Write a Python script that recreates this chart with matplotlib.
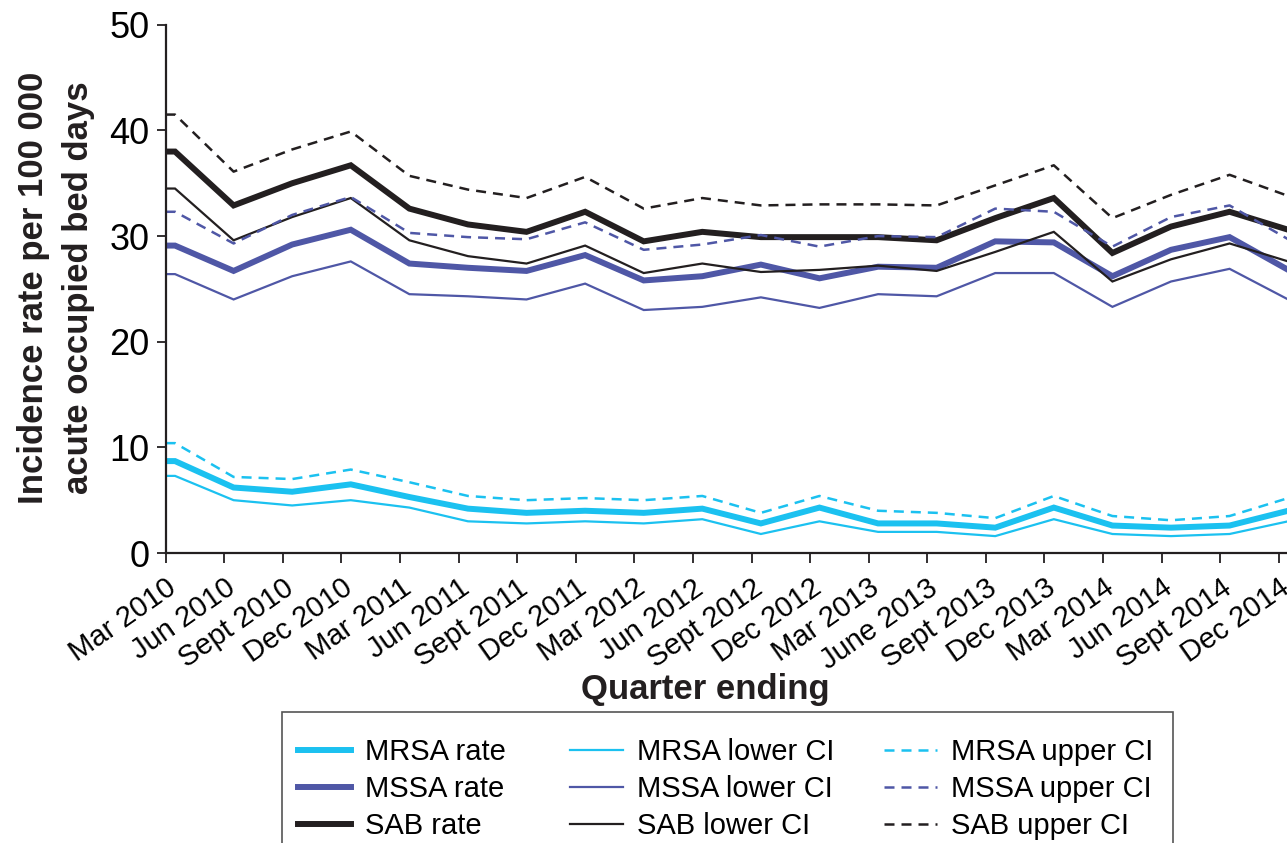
import numpy as np
import matplotlib
matplotlib.use('Agg')
import matplotlib.pyplot as plt
from matplotlib.patches import Rectangle
from matplotlib.transforms import ScaledTranslation

plt.rcParams['font.family'] = ['Liberation Sans', 'DejaVu Sans']

# quarterly S. aureus bacteraemia incidence (per 100 000 acute occupied bed days)
quarters = ['Mar 2010', 'Jun 2010', 'Sept 2010', 'Dec 2010', 'Mar 2011', 'Jun 2011',
            'Sept 2011', 'Dec 2011', 'Mar 2012', 'Jun 2012', 'Sept 2012', 'Dec 2012',
            'Mar 2013', 'June 2013', 'Sept 2013', 'Dec 2013', 'Mar 2014', 'Jun 2014',
            'Sept 2014', 'Dec 2014']

mrsa_rate = [8.7, 6.2, 5.8, 6.5, 5.3, 4.2, 3.8, 4.0, 3.8, 4.2, 2.8, 4.3, 2.8, 2.8, 2.4, 4.3, 2.6, 2.4, 2.6, 4.0]
mrsa_lower = [7.3, 5.0, 4.5, 5.0, 4.3, 3.0, 2.8, 3.0, 2.8, 3.2, 1.8, 3.0, 2.0, 2.0, 1.6, 3.2, 1.8, 1.6, 1.8, 3.0]
mrsa_upper = [10.4, 7.2, 7.0, 7.9, 6.7, 5.4, 5.0, 5.2, 5.0, 5.4, 3.8, 5.4, 4.0, 3.8, 3.3, 5.4, 3.5, 3.1, 3.5, 5.2]

mssa_rate = [29.1, 26.7, 29.2, 30.6, 27.4, 27.0, 26.7, 28.2, 25.8, 26.2, 27.3, 26.0, 27.1, 27.0, 29.5, 29.4, 26.2, 28.7, 29.9, 26.8]
mssa_lower = [26.4, 24.0, 26.2, 27.6, 24.5, 24.3, 24.0, 25.5, 23.0, 23.3, 24.2, 23.2, 24.5, 24.3, 26.5, 26.5, 23.3, 25.7, 26.9, 24.0]
mssa_upper = [32.3, 29.3, 32.0, 33.7, 30.3, 29.9, 29.7, 31.3, 28.7, 29.2, 30.1, 29.0, 30.0, 29.9, 32.6, 32.3, 29.0, 31.8, 32.9, 29.7]

sab_rate = [38.0, 32.9, 35.0, 36.7, 32.6, 31.1, 30.4, 32.3, 29.5, 30.4, 29.9, 29.9, 29.9, 29.6, 31.7, 33.6, 28.4, 30.9, 32.3, 30.6]
sab_lower = [34.5, 29.6, 31.8, 33.6, 29.6, 28.1, 27.4, 29.1, 26.5, 27.4, 26.6, 26.8, 27.2, 26.7, 28.5, 30.4, 25.7, 27.8, 29.3, 27.6]
sab_upper = [41.5, 36.1, 38.2, 39.9, 35.7, 34.4, 33.6, 35.6, 32.6, 33.6, 32.9, 33.0, 33.0, 32.9, 34.8, 36.7, 31.7, 33.9, 35.8, 33.8]

c_mrsa = '#1bc1f0'
c_mssa = '#4f57a6'
c_sab = '#231f20'

W, H = 1287, 843
fig = plt.figure(figsize=(W / 100, H / 100), dpi=100)
ax = fig.add_axes([0.1287, 0.344, 0.8713, 0.6266])

# points sit a little right of each tick; a short stub joins the first one to the axis
x = np.arange(len(quarters)) + 0.16
xs = np.concatenate([[0], x])


def line(vals, color, lw, dashed=False, label=None):
    y = np.concatenate([[vals[0]], vals])
    kw = dict(dashes=(4, 2.8)) if dashed else {}
    h, = ax.plot(xs, y, color=color, lw=lw, label=label, solid_joinstyle='miter', **kw)
    return h


thick, thin, dash = 4.3, 1.6, 1.8
h1 = line(mrsa_rate, c_mrsa, thick, label='MRSA rate')
h2 = line(mssa_rate, c_mssa, thick, label='MSSA rate')
h3 = line(sab_rate, c_sab, thick, label='SAB rate')
h4 = line(mrsa_lower, c_mrsa, thin, label='MRSA lower CI')
h5 = line(mssa_lower, c_mssa, thin, label='MSSA lower CI')
h6 = line(sab_lower, c_sab, thin, label='SAB lower CI')
h7 = line(mrsa_upper, c_mrsa, dash, True, label='MRSA upper CI')
h8 = line(mssa_upper, c_mssa, dash, True, label='MSSA upper CI')
h9 = line(sab_upper, c_sab, dash, True, label='SAB upper CI')

ax.set_xlim(0, 19.14)
ax.set_ylim(0, 50)
ax.set_yticks(range(0, 51, 10))
ax.set_xticks(np.arange(len(quarters)))
ax.set_xticklabels(quarters, rotation=35, ha='right', va='top', rotation_mode='anchor', fontsize=21)
for lab in ax.get_xticklabels():
    lab.set_transform(lab.get_transform() + ScaledTranslation(0.06, 0, fig.dpi_scale_trans))
ax.tick_params(axis='y', labelsize=26, length=6.5, width=1.3, pad=5, color='#231f20')
ax.tick_params(axis='x', length=7, width=1.3, pad=8, color='#231f20')

for s in ['top', 'right']:
    ax.spines[s].set_visible(False)
for s in ['left', 'bottom']:
    ax.spines[s].set_linewidth(1.6)
    ax.spines[s].set_color('#231f20')

fig.text(56 / W, 1 - 288 / H, 'Incidence rate per 100 000\nacute occupied bed days',
         rotation=90, fontsize=25, fontweight='bold', linespacing=1.45,
         ha='center', va='center', color='#231f20')
fig.text(0.548, 1 - 689 / H, 'Quarter ending', fontsize=25, fontweight='bold',
         ha='center', va='center', color='#231f20')

# legend: three single-column legends inside one box that runs off the bottom
fig.add_artist(Rectangle((282 / W, -0.05), (1173 - 282) / W, 1 - 712 / H + 0.05,
                         transform=fig.transFigure, fill=False,
                         edgecolor='#555555', lw=1.2))
columns = [([h1, h2, h3], 298), ([h4, h5, h6], 570), ([h7, h8, h9], 884)]
for hs, left in columns:
    fig.legend(hs, [h.get_label() for h in hs], loc='upper left',
               bbox_to_anchor=(left / W, 1 - 738 / H), borderaxespad=0, borderpad=0,
               fontsize=21, frameon=False, handlelength=1.8, handletextpad=0.5,
               labelspacing=0.31)

fig.savefig('out.png', dpi=100)
